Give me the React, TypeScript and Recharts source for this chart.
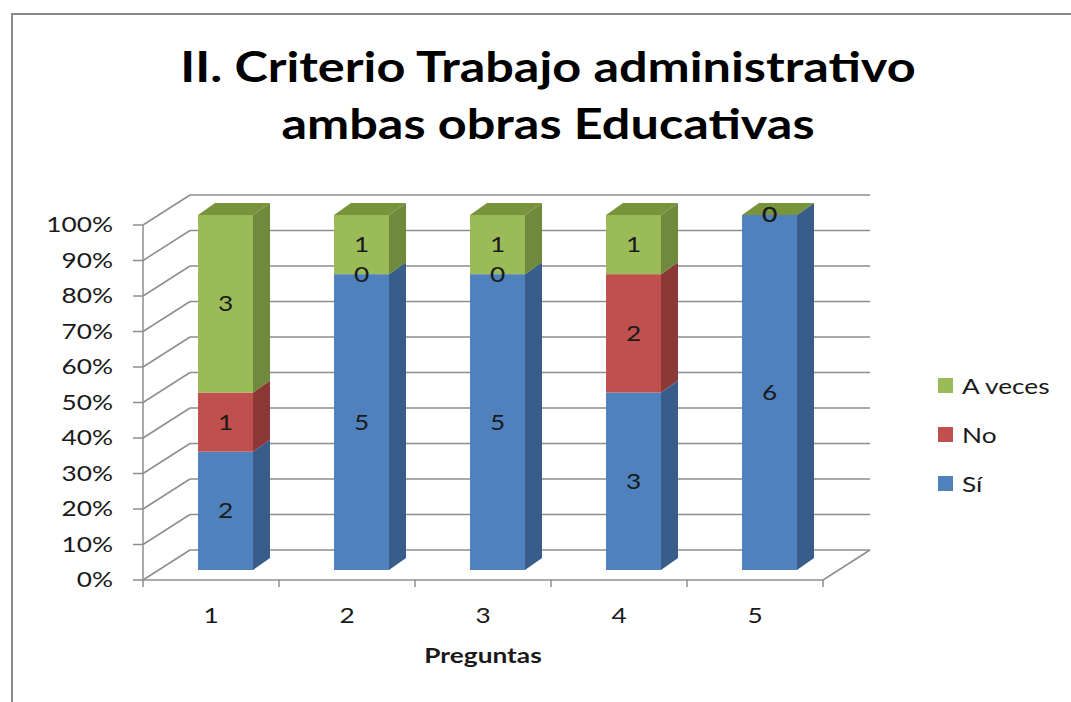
import { BarChart, Bar, XAxis, YAxis, CartesianGrid, Legend, LabelList } from "recharts";

const categories = ["1", "2", "3", "4", "5"];
const siValues = [2, 5, 5, 3, 6];
const noValues = [1, 0, 0, 2, 0];
const aVecesValues = [3, 1, 1, 1, 0];
const yTicks = [0, 0.1, 0.2, 0.3, 0.4, 0.5, 0.6, 0.7, 0.8, 0.9, 1];

const data = categories.map((name, i) => ({
  name,
  si: siValues[i],
  no: noValues[i],
  aveces: aVecesValues[i],
}));

const FONT = "Lato, 'Open Sans', sans-serif";
const GRID = "#8e8e8e";
const TEXT = "#1a1a1a";
// the original text is a bit stretched sideways
const SX = 1.25;

// wall depth (back plane offset) and bar placement in depth
const DX = 47;
const DY = -30;
const BX = 14;
const BY = -10;
const BDX = 17;
const BDY = -12;

const PLOT_BOTTOM = 580;

const SERIES = [
  { key: "si", name: "Sí", front: "#4f81bd", side: "#385d8a", top: "#4a76ab" },
  { key: "no", name: "No", front: "#c0504d", side: "#8c3836", top: "#a94542" },
  { key: "aveces", name: "A veces", front: "#9bbb59", side: "#6f8a3c", top: "#77933c" },
];

function SText(props: any) {
  const { x, y, anchor = "middle", dy = "0.355em", size = 21, weight = 400, children } = props;
  return (
    <text
      transform={`translate(${x},${y}) scale(${SX},1)`}
      x={0}
      y={0}
      dy={dy}
      textAnchor={anchor}
      fontSize={size}
      fontWeight={weight}
      fill={TEXT}
    >
      {children}
    </text>
  );
}

function make3D(s: (typeof SERIES)[number], drawTop: boolean) {
  return (props: any) => {
    const { x, y, width, height } = props;
    if (x == null || y == null) return <g />;
    const fx = x + BX;
    const fy = y + BY;
    const h = Math.max(0, height || 0);
    const w = width;
    const side = `${fx + w},${fy} ${fx + w + BDX},${fy + BDY} ${fx + w + BDX},${fy + h + BDY} ${fx + w},${fy + h}`;
    const top = `${fx},${fy} ${fx + BDX},${fy + BDY} ${fx + w + BDX},${fy + BDY} ${fx + w},${fy}`;
    return (
      <g>
        {h > 0 && <rect x={fx} y={fy} width={w} height={h} fill={s.front} />}
        {h > 0 && <polygon points={side} fill={s.side} />}
        {drawTop && <polygon points={top} fill={s.top} />}
      </g>
    );
  };
}

const renderLabel = (p: any) => {
  const { x, y, width, height, value } = p;
  return (
    <SText x={x + width / 2 + BX} y={y + (height || 0) / 2 + BY}>
      {value}
    </SText>
  );
};

const gridLine = (p: any) => {
  const { x1, y1, x2, y2 } = p;
  const isFloor = Math.abs(y1 - PLOT_BOTTOM) < 1;
  return (
    <g key={p.key}>
      <line x1={x1} y1={y1} x2={x1 + DX} y2={y1 + DY} stroke={GRID} strokeWidth={1.5} />
      <line x1={x1 + DX} y1={y1 + DY} x2={x2 + DX} y2={y2 + DY} stroke={GRID} strokeWidth={1.5} />
      {isFloor && (
        <line x1={x2} y1={y2} x2={x2 + DX} y2={y2 + DY} stroke={GRID} strokeWidth={1.5} />
      )}
    </g>
  );
};

const XTick = (p: any) => {
  const { x, y, payload, index } = p;
  const half = payload?.offset ?? 68;
  const axisY = y - 28;
  return (
    <g>
      <line x1={x - half} y1={axisY} x2={x - half} y2={axisY + 7} stroke={GRID} strokeWidth={1.5} />
      {index === categories.length - 1 && (
        <line x1={x + half} y1={axisY} x2={x + half} y2={axisY + 7} stroke={GRID} strokeWidth={1.5} />
      )}
      <SText x={x} y={y} dy="0.71em">
        {payload.value}
      </SText>
    </g>
  );
};

const YTick = (p: any) => {
  const { x, y, payload } = p;
  return (
    <SText x={x} y={y} anchor="end">
      {`${Math.round(payload.value * 100)}%`}
    </SText>
  );
};

const renderAxisTitle = (p: any) => {
  const vb = p.viewBox || { x: 143, y: 580, width: 680 };
  return (
    <SText x={vb.x + vb.width / 2} y={vb.y + 83} dy={0} weight={700}>
      Preguntas
    </SText>
  );
};

const renderLegend = () => (
  <div style={{ fontFamily: FONT, fontSize: 21, color: TEXT }}>
    {[...SERIES].reverse().map((s) => (
      <div key={s.key} style={{ display: "flex", alignItems: "center", height: 49 }}>
        <span style={{ width: 15, height: 15, background: s.front, display: "inline-block", marginRight: 9, flex: "none" }} />
        <span style={{ display: "inline-block", transform: `scaleX(${SX})`, transformOrigin: "left center", whiteSpace: "nowrap" }}>
          {s.name}
        </span>
      </div>
    ))}
  </div>
);

export default function App() {
  return (
    <div
      style={{
        position: "fixed",
        left: 0,
        top: 0,
        width: 1071,
        height: 702,
        overflow: "hidden",
        background: "#fff",
        fontFamily: FONT,
      }}
    >
      <div
        style={{
          position: "absolute",
          left: 11,
          top: 13,
          width: 1200,
          height: 900,
          border: "2px solid #8a8a8a",
        }}
      />
      <div
        style={{
          position: "absolute",
          left: 48,
          width: 1000,
          top: 38,
          textAlign: "center",
          fontWeight: 700,
          fontSize: 42,
          lineHeight: "57px",
          color: "#000",
          transform: "scaleX(1.2)",
          transformOrigin: "500px 0",
        }}
      >
        II. Criterio Trabajo administrativo
        <br />
        ambas obras Educativas
      </div>
      <div style={{ position: "absolute", left: 0, top: 0 }}>
        <BarChart
          width={1071}
          height={702}
          data={data}
          stackOffset="expand"
          barSize={55}
          margin={{ top: 225, right: 248, bottom: 62, left: 83 }}
        >
          <CartesianGrid horizontal={gridLine} vertical={false} />
          <XAxis
            dataKey="name"
            height={60}
            axisLine={{ stroke: GRID, strokeWidth: 1.5 }}
            tickLine={false}
            tickSize={6}
            tickMargin={22}
            tick={<XTick />}
            label={{ content: renderAxisTitle }}
          />
          <YAxis
            width={60}
            domain={[0, 1]}
            ticks={yTicks}
            axisLine={{ stroke: GRID, strokeWidth: 1.5 }}
            tickLine={{ stroke: GRID, strokeWidth: 1.5 }}
            tickSize={10}
            tickMargin={20}
            tick={<YTick />}
          />
          <Legend
            layout="vertical"
            align="center"
            verticalAlign="middle"
            content={renderLegend}
            wrapperStyle={{ position: "absolute", left: 938, top: 361, width: 130 }}
          />
          {SERIES.map((s, i) => (
            <Bar
              key={s.key}
              dataKey={s.key}
              name={s.name}
              stackId="a"
              fill={s.front}
              isAnimationActive={false}
              shape={make3D(s, i === SERIES.length - 1)}
            >
              <LabelList dataKey={s.key} content={renderLabel} />
            </Bar>
          ))}
        </BarChart>
      </div>
    </div>
  );
}
